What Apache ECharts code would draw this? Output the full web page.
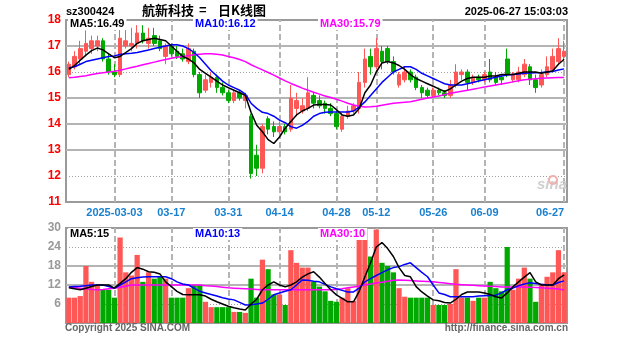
<!DOCTYPE html>
<html>
<head>
<meta charset="utf-8">
<script src="https://cdn.jsdelivr.net/npm/echarts@6/dist/echarts.min.js"></script>
<style>
  html, body { margin: 0; padding: 0; background: #fff; }
  #chart { width: 627px; height: 342px; }
</style>
</head>
<body>
<div id="chart"></div>
<script>
// 航新科技 (sz300424) daily K-line, 2025-02-19 .. 2025-06-27
const stockCode = 'sz300424';
const stockName = '航新科技';
const chartKind = '日K线图';
const stampText = '2025-06-27 15:03:03';

const dates = [
  '2025-02-19','2025-02-20','2025-02-21','2025-02-24','2025-02-25','2025-02-26','2025-02-27','2025-02-28',
  '2025-03-03','2025-03-04','2025-03-05','2025-03-06','2025-03-07','2025-03-10','2025-03-11','2025-03-12',
  '2025-03-13','2025-03-14','2025-03-17','2025-03-18','2025-03-19','2025-03-20','2025-03-21','2025-03-24',
  '2025-03-25','2025-03-26','2025-03-27','2025-03-28','2025-03-31','2025-04-01','2025-04-02','2025-04-03',
  '2025-04-07','2025-04-08','2025-04-09','2025-04-10','2025-04-11','2025-04-14','2025-04-15','2025-04-16',
  '2025-04-17','2025-04-18','2025-04-21','2025-04-22','2025-04-23','2025-04-24','2025-04-25','2025-04-28',
  '2025-04-29','2025-04-30','2025-05-06','2025-05-07','2025-05-08','2025-05-09','2025-05-12','2025-05-13',
  '2025-05-14','2025-05-15','2025-05-16','2025-05-19','2025-05-20','2025-05-21','2025-05-22','2025-05-23',
  '2025-05-26','2025-05-27','2025-05-28','2025-05-29','2025-05-30','2025-06-03','2025-06-04','2025-06-05',
  '2025-06-06','2025-06-09','2025-06-10','2025-06-11','2025-06-12','2025-06-13','2025-06-16','2025-06-17',
  '2025-06-18','2025-06-19','2025-06-20','2025-06-23','2025-06-24','2025-06-25','2025-06-26','2025-06-27'
];

// dates that carry an axis label and a vertical grid line
const tickDates = ['2025-03-03','2025-03-17','2025-03-31','2025-04-14','2025-04-28',
                   '2025-05-12','2025-05-26','2025-06-09','2025-06-27'];

const opens = [
  15.9,16.2,16.5,16.8,16.9,17.0,17.2,16.5, 16.0,15.9,17.0,17.0,17.1,17.5,17.1,17.4,
  17.2,16.6,17.0,16.8,16.7,16.4,16.8,15.9, 15.3,15.6,15.8,15.4,15.2,14.9,15.2,14.9,
  14.3,12.8,12.3,14.2,13.9,13.7,13.9,13.8, 14.6,14.5,14.6,15.1,14.9,14.8,14.6,14.4,
  13.8,14.3,14.5,14.6,15.6,16.6,16.2,16.8, 16.9,16.4,15.5,15.7,16.0,15.8,15.4,15.3,
  15.1,15.3,15.2,15.1,15.5,15.9,16.0,15.6, 15.8,15.7,16.0,15.8,15.8,16.5,15.7,15.7,
  15.9,16.2,15.7,15.5,15.9,16.1,16.4,16.6
];
const closes = [
  16.3,16.6,16.9,17.1,17.2,17.2,16.5,16.0, 15.9,17.3,17.2,17.1,17.5,17.2,17.3,17.1,
  16.9,17.0,16.7,16.6,16.5,16.9,15.9,15.2, 15.7,15.8,15.4,15.2,14.9,15.2,15.0,15.1,
  12.1,12.3,13.9,13.8,13.7,13.9,13.7,15.0, 14.9,14.7,15.2,14.8,14.7,14.6,14.4,13.9,
  14.3,14.5,14.7,15.6,16.5,16.2,16.9,16.4, 16.4,16.0,15.9,16.0,15.7,15.4,15.2,15.1,
  15.3,15.2,15.1,15.5,16.0,16.0,15.6,15.8, 15.7,15.9,15.7,15.6,15.7,15.9,15.9,16.0,
  16.3,15.7,15.4,15.9,16.2,16.6,16.9,16.8
];
const lows = [
  15.8,16.1,16.3,16.6,16.7,16.8,16.4,15.9, 15.8,15.8,16.9,16.8,16.9,17.1,16.9,17.0,
  16.8,16.3,16.6,16.5,16.4,16.3,15.8,15.0, 15.2,15.4,15.2,15.1,14.8,14.8,14.9,14.6,
  11.9,12.0,12.1,13.6,13.5,13.6,13.6,13.7, 14.3,14.4,14.5,14.6,14.6,14.4,14.3,13.8,
  13.7,14.2,14.4,14.4,15.4,15.9,16.1,16.1, 16.3,15.9,15.4,15.6,15.6,15.3,15.0,15.0,
  15.0,15.1,15.0,15.0,15.4,15.7,15.3,15.5, 15.6,15.6,15.6,15.5,15.5,15.8,15.6,15.6,
  15.8,15.5,15.2,15.4,15.8,16.0,16.3,16.4
];
const highs = [
  16.4,16.8,17.2,17.6,17.4,17.4,17.3,16.7, 16.3,17.9,17.8,17.7,17.8,17.8,17.7,17.7,
  17.4,17.1,17.1,17.0,16.9,17.1,16.9,16.0, 15.9,16.0,15.9,15.6,15.3,15.3,15.3,15.2,
  14.4,13.2,14.0,14.3,14.1,14.1,14.0,15.5, 15.2,15.0,15.8,15.2,15.1,14.9,14.8,14.5,
  14.4,14.7,14.8,16.0,16.9,16.9,17.3,17.0, 17.0,16.6,16.0,16.2,16.1,15.9,15.5,15.4,
  15.4,15.4,15.3,15.7,16.3,16.1,16.1,15.9, 15.9,16.0,16.5,16.0,15.9,16.9,16.0,16.2,
  16.5,16.3,15.9,16.1,16.6,16.9,17.3,17.2
];

// moving averages of the close
const ma5 = [
  16.10,16.25,16.45,16.65,16.82,16.92,16.85,16.70, 16.55,16.60,16.75,16.90,17.10,17.20,17.25,17.30,
  17.25,17.20,17.00,16.80,16.60,16.50,16.35,16.10, 15.95,15.80,15.65,15.50,15.40,15.30,15.20,15.10,
  14.45,13.95,13.70,13.40,13.25,13.50,13.84,14.10, 14.35,14.50,14.60,14.73,14.75,14.75,14.73,14.55,
  14.35,14.30,14.35,14.60,15.20,15.50,16.00,16.35, 16.40,16.35,16.25,16.10,15.90,15.75,15.65,15.55,
  15.45,15.35,15.25,15.35,15.50,15.65,15.75,15.80, 15.80,15.80,15.85,15.85,15.90,15.90,15.90,15.95,
  16.00,16.00,16.00,15.95,16.00,16.05,16.30,16.49
];
const ma10 = [
  16.15,16.20,16.30,16.40,16.45,16.50,16.55,16.60, 16.62,16.67,16.70,16.72,16.75,16.80,16.85,16.90,
  16.95,17.00,17.05,17.05,17.00,16.90,16.75,16.55, 16.30,16.05,15.85,15.65,15.50,15.40,15.30,15.15,
  14.80,14.60,14.45,14.40,14.30,14.15,14.05,13.90, 13.84,13.95,14.10,14.30,14.40,14.45,14.46,14.46,
  14.46,14.46,14.50,14.65,14.85,15.10,15.35,15.60, 15.80,16.00,16.10,16.20,16.20,16.10,15.95,15.85,
  15.75,15.65,15.55,15.50,15.50,15.50,15.55,15.60, 15.65,15.70,15.75,15.80,15.85,15.88,15.90,15.92,
  15.95,15.96,15.97,15.98,16.00,16.02,16.08,16.12
];
const ma30 = [
  15.78,15.80,15.83,15.86,15.90,15.94,15.97,16.00, 16.03,16.07,16.12,16.17,16.22,16.28,16.33,16.38,
  16.43,16.48,16.53,16.57,16.60,16.63,16.66,16.68, 16.70,16.70,16.68,16.65,16.60,16.55,16.48,16.40,
  16.28,16.18,16.08,15.98,15.88,15.77,15.66,15.56, 15.47,15.38,15.30,15.22,15.15,15.08,15.02,14.95,
  14.88,14.80,14.73,14.68,14.65,14.66,14.68,14.72, 14.76,14.80,14.82,14.84,14.86,14.90,14.95,15.00,
  15.04,15.08,15.13,15.18,15.22,15.26,15.30,15.34, 15.38,15.42,15.46,15.50,15.54,15.58,15.62,15.66,
  15.70,15.72,15.74,15.76,15.77,15.78,15.79,15.79
];

// volume (万手) and its moving averages
const volumes = [
  8,8,8.5,18,13,12,10.5,10.5, 8,27,16,15,21.5,13,16,14,
  14.5,14,8,8,8,11,12,12, 6.7,5,5,5,5,3.5,3.5,3.2,
  14,8,20,17,9,9,5.7,23, 19,17.5,17.5,13,11.5,10,7,6.7,
  8,11,7,31,30.5,21,29.5,19, 18,16,11,8.3,8,8,8,8,
  5.7,5.7,5.7,6,17,8,8,7, 8,8,13,11,10,24,10.5,14,
  17.5,14,6.7,12,14.6,16,23,16
];
const volMa5 = [
  11.1,10.8,10.5,11,11.5,12,12,12, 11,12.5,14,16,17.5,17,16.2,16,
  15.5,13,11.5,10,9,8.9,8.9,8.9, 8.5,7.5,6.7,6,5.3,4.8,4.4,4.1,
  6,7.5,10.5,12,13,12,11.4,12, 13,14.5,15.5,16.2,14.5,12.5,10.5,8.9,
  7.8,6.7,6.7,10,14.6,19,24,25.4, 23.5,21,17.5,15,14.6,11.5,9.8,8.5,
  7.3,7,6.5,6.3,7.5,9,9.8,9.8, 9.8,9.5,9,8.3,7.9,9.5,11.4,13,
  14.5,15.9,13,12,12,12,14,15.2
];
const volMa10 = [
  11.4,11.5,11.6,11.8,12,12,12,11.5, 11,12,13,14,14.3,14.5,14.6,14.6,
  14.6,14.6,14,13,12.3,12,11,10, 9.5,9,8.5,8,7.6,7.3,6.5,5.7,
  5.8,6,6.3,7.5,8.9,9.5,10,10.5, 12,13.6,13.5,13.2,13,12.2,11.4,10.8,
  10.3,9.8,9.8,11,13,14,15,15.9, 16.8,17.5,17.8,18.5,19,17.5,16,14.6,
  12,9.5,9,8.3,8.3,8.3,8.3,8.3, 8.5,8.6,8.7,8.8,9.5,10.5,11,11.8,
  12.3,12.7,12.5,12.2,12,12,12.8,13.3
];
const volMa30 = [
  11.4,11.2,11,10.8,10.6,10.5,10.6,10.8, 11,11.3,11.6,12,12,12,12,12,
  12,12,12,12,12,12,12,12, 11.8,11.7,11.5,11.3,11.1,11,10.9,10.8,
  10.7,10.6,10.5,10.5,10.5,10.5,10.5,10.5, 10.5,10.5,10.5,10.5,10.5,10.5,10.5,10.6,
  10.8,11.1,11.4,11.7,12,12.3,12.6,12.9, 13.2,13.5,13.6,13.5,13.4,13.3,13.2,13.1,
  13,12.8,12.6,12.4,12.2,12.1,12,11.9, 11.8,11.7,11.6,11.5,11.4,11.4,11.4,11.4,
  11.4,11.3,11.2,11.1,11,10.9,10.7,10.4
];

const priceTicks = [11, 12, 13, 14, 15, 16, 17, 18];
const volumeTicks = [0, 6, 12, 18, 24, 30];

const UP = '#ff5656';
const DOWN = '#00a800';
const GRID_GRAY = '#b4b4b4';
const FONT = '"Liberation Sans", Arial, sans-serif';
const CJK = '"Noto Sans CJK SC", sans-serif';

const last = a => a[a.length - 1];
const isUp = i => closes[i] >= opens[i];

const candleData = dates.map((d, i) => [opens[i], closes[i], lows[i], highs[i]]);
const volumeData = volumes.map((v, i) => ({
  value: v,
  itemStyle: { color: isUp(i) ? UP : DOWN }
}));

// grid lines: solid or dotted depending on level
const dottedPrice = [12, 16];
const dottedVolume = [6, 24];
function hLines(values, dotted) {
  return values.map(v => ({
    yAxis: v,
    lineStyle: dotted.includes(v)
      ? { type: [1, 2], width: 1, color: '#a0a0a0' }
      : { type: 'solid', width: 2, color: GRID_GRAY }
  }));
}
const vLines = tickDates.map(d => ({
  xAxis: d,
  lineStyle: { type: [6, 3], width: 2, color: GRID_GRAY }
}));

function gridSeries(xi, yi, levels, dotted) {
  return {
    type: 'line', xAxisIndex: xi, yAxisIndex: yi, data: [], silent: true, z: 0,
    markLine: {
      silent: true, symbol: 'none', z: 0, animation: false,
      label: { show: false },
      data: hLines(levels, dotted).concat(vLines)
    }
  };
}

function maLine(data, color, xi, yi) {
  return {
    type: 'line', data: data, xAxisIndex: xi, yAxisIndex: yi,
    symbol: 'none', smooth: false, z: 4,
    lineStyle: { color: color, width: 1.5 }
  };
}

const chart = echarts.init(document.getElementById('chart'), null, { renderer: 'canvas' });

const legendStyle = (color) => ({
  font: `bold 11px ${FONT}`, fill: color,
  backgroundColor: '#fff', padding: [1, 2, 0, 2],
  verticalAlign: 'middle'
});
const txt = (props, style) => Object.assign({ type: 'text', z: 100, silent: true }, props, { style: style });

chart.setOption({
  animation: false,
  backgroundColor: '#fff',
  grid: [
    { left: 66, top: 20, width: 501, height: 182, show: true, borderColor: '#9a9a9a', borderWidth: 2, backgroundColor: 'transparent' },
    { left: 66, top: 228, width: 501, height: 95, show: true, borderColor: '#9a9a9a', borderWidth: 2, backgroundColor: 'transparent' }
  ],
  xAxis: [
    {
      type: 'category', gridIndex: 0, data: dates, boundaryGap: true,
      axisLine: { show: false }, axisTick: { show: false }, splitLine: { show: false },
      axisLabel: {
        interval: (idx, val) => tickDates.includes(val),
        formatter: v => (v === tickDates[0] ? v : v.slice(5)),
        color: '#1a80d0', fontFamily: FONT, fontWeight: 'bold', fontSize: 11,
        margin: 5, alignMaxLabel: 'right', showMaxLabel: true
      }
    },
    {
      type: 'category', gridIndex: 1, data: dates, boundaryGap: true,
      axisLine: { show: false }, axisTick: { show: false }, splitLine: { show: false },
      axisLabel: { show: false }
    }
  ],
  yAxis: [
    {
      type: 'value', gridIndex: 0, min: priceTicks[0], max: last(priceTicks), interval: 1,
      axisLine: { show: false }, axisTick: { show: false }, splitLine: { show: false },
      axisLabel: { color: '#ff0000', fontFamily: FONT, fontWeight: 'bold', fontSize: 12, margin: 5 }
    },
    {
      type: 'value', gridIndex: 1, min: volumeTicks[0], max: last(volumeTicks), interval: 6,
      axisLine: { show: false }, axisTick: { show: false }, splitLine: { show: false },
      axisLabel: {
        color: '#999', fontFamily: FONT, fontWeight: 'bold', fontSize: 12, margin: 5,
        formatter: v => (v === 0 ? '' : String(v))
      }
    }
  ],
  series: [
    gridSeries(0, 0, priceTicks.slice(1, -1), dottedPrice),
    gridSeries(1, 1, volumeTicks.slice(1, -1), dottedVolume),
    {
      type: 'candlestick', xAxisIndex: 0, yAxisIndex: 0, data: candleData, z: 2,
      barWidth: '72%',
      itemStyle: { color: UP, color0: DOWN, borderColor: UP, borderColor0: DOWN, borderWidth: 1 }
    },
    maLine(ma30, '#ff00ff', 0, 0),
    maLine(ma10, '#0000ff', 0, 0),
    maLine(ma5, '#000000', 0, 0),
    {
      type: 'bar', xAxisIndex: 1, yAxisIndex: 1, data: volumeData, z: 2,
      barCategoryGap: '8%'
    },
    maLine(volMa30, '#ff00ff', 1, 1),
    maLine(volMa10, '#0000ff', 1, 1),
    maLine(volMa5, '#000000', 1, 1)
  ],
  graphic: [
    txt({ left: 66, top: 6 }, { text: stockCode, font: `bold 11px ${FONT}`, fill: '#000' }),
    txt({ left: 142, top: 4 }, { text: stockName, font: `bold 13px ${CJK}`, fill: '#000' }),
    txt({ left: 199, top: 4 }, { text: '=', font: `bold 13px ${FONT}`, fill: '#000' }),
    txt({ left: 218, top: 4 }, { text: chartKind, font: `bold 13px ${CJK}`, fill: '#000' }),
    txt({ right: 59, top: 6 }, { text: stampText, font: `bold 11px ${FONT}`, fill: '#000' }),

    txt({ x: 68, y: 24 }, Object.assign({ text: 'MA5:' + last(ma5).toFixed(2) }, legendStyle('#000'))),
    txt({ x: 193, y: 24 }, Object.assign({ text: 'MA10:' + last(ma10).toFixed(2) }, legendStyle('#0000ff'))),
    txt({ x: 318, y: 24 }, Object.assign({ text: 'MA30:' + last(ma30).toFixed(2) }, legendStyle('#ff00ff'))),

    txt({ x: 68, y: 234 }, Object.assign({ text: 'MA5:' + Math.round(last(volMa5)) }, legendStyle('#000'))),
    txt({ x: 193, y: 234 }, Object.assign({ text: 'MA10:' + Math.round(last(volMa10)) }, legendStyle('#0000ff'))),
    txt({ x: 318, y: 234 }, Object.assign({ text: 'MA30:' + Math.round(last(volMa30)) }, legendStyle('#ff00ff'))),

    txt({ x: 537, y: 177 }, { text: 'sina', font: `italic bold 15px ${FONT}`, fill: '#cfcfcf' }),
    { type: 'circle', z: 100, silent: true, shape: { cx: 553, cy: 180, r: 4 }, style: { fill: 'none', stroke: '#f0b0b0', lineWidth: 2 } },

    txt({ x: 65, y: 323 }, { text: 'Copyright 2025 SINA.COM', font: `bold 10px ${FONT}`, fill: '#666' }),
    txt({ right: 59, y: 323 }, { text: 'http://finance.sina.com.cn', font: `bold 10px ${FONT}`, fill: '#666' })
  ]
});
</script>
</body>
</html>
